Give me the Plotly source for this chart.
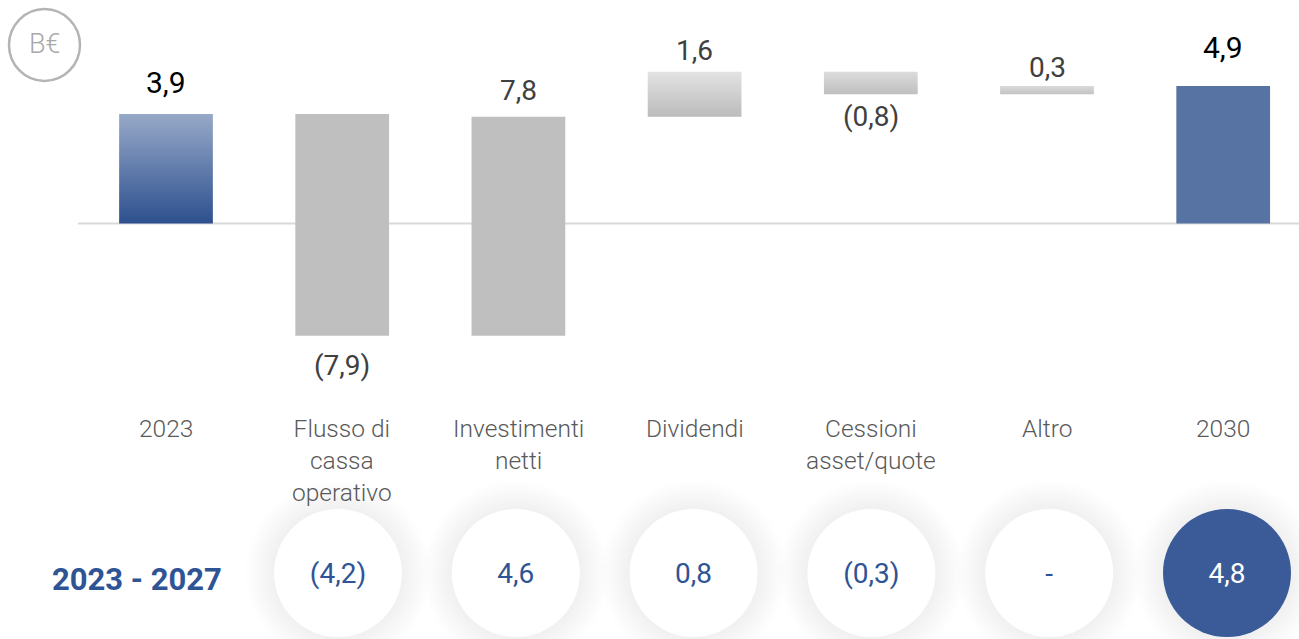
import plotly.graph_objects as go

# ---------------- data ----------------
categories = ["2023", "Flusso di<br>cassa<br>operativo", "Investimenti<br>netti",
              "Dividendi", "Cessioni<br>asset/quote", "Altro", "2030"]
values = [3.9, -7.9, 7.8, 1.6, -0.8, 0.3, 4.9]
value_labels = ["3,9", "(7,9)", "7,8", "1,6", "(0,8)", "0,3", "4,9"]
measures = ["total", "relative", "relative", "relative", "relative", "relative", "total"]
period_label = "2023 - 2027"
period_values = ["(4,2)", "4,6", "0,8", "(0,3)", "-", "4,8"]
unit_label = "B€"

# ---------------- styles ----------------
W, H = 1299, 639
BAR_W = 0.532
FONT = "Roboto"
BLUE = "#2f5496"
fills = [
    ("grad", "#2d508f", "#97a9c8"),
    ("solid", "#bfbfbf", None),
    ("solid", "#bfbfbf", None),
    ("grad", "#bcbcbc", "#e2e2e2"),
    ("grad", "#bfbfbf", "#dcdcdc"),
    ("grad", "#c2c2c2", "#dadada"),
    ("solid", "#5673a3", None),
]
label_colors = ["#000000", "#404040", "#404040", "#404040", "#404040", "#404040", "#000000"]
label_sizes = [30, 28, 28, 28, 28, 28, 30]
label_shift = [31, -30, 26, 21, -22, 18, 38]

# waterfall geometry from the values
bases, ends = [], []
run = 0.0
for v, m in zip(values, measures):
    if m == "total":
        b, e = 0.0, v
        run = v
    else:
        b, e = run, run + v
        run = e
    bases.append(b)
    ends.append(e)

fig = go.Figure()

for i, (b, e) in enumerate(zip(bases, ends)):
    lo, hi = min(b, e), max(b, e)
    kind, c1, c2 = fills[i]
    if kind == "solid":
        fig.add_trace(go.Bar(x=[i], y=[hi - lo], base=[lo], width=BAR_W,
                             marker=dict(color=c1, line=dict(width=0)),
                             hoverinfo="skip", showlegend=False))
    else:
        xs = [i - BAR_W / 2, i + BAR_W / 2, i + BAR_W / 2, i - BAR_W / 2, i - BAR_W / 2]
        ys = [lo, lo, hi, hi, lo]
        fig.add_trace(go.Scatter(x=xs, y=ys, mode="lines", fill="toself",
                                 line=dict(width=0, color="rgba(0,0,0,0)"),
                                 fillgradient=dict(type="vertical",
                                                   colorscale=[[0, c1], [1, c2]],
                                                   start=lo, stop=hi),
                                 hoverinfo="skip", showlegend=False))

# value labels
for i, (b, e) in enumerate(zip(bases, ends)):
    yv = max(b, e) if values[i] >= 0 else min(b, e)
    fig.add_annotation(x=i, y=yv, text=value_labels[i], showarrow=False,
                       xanchor="center", yanchor="middle", yshift=label_shift[i],
                       font=dict(family=FONT, size=label_sizes[i], color=label_colors[i]))

# category labels
for i, c in enumerate(categories):
    fig.add_annotation(x=i, y=1 - 412 / H, yref="paper", text=c, showarrow=False,
                       xanchor="center", yanchor="top", align="center",
                       font=dict(family=FONT, size=24.5, color="#595959", weight=300))

# baseline
fig.add_shape(type="line", xref="x", yref="y", x0=-0.5, x1=len(categories) + 0.5,
              y0=0, y1=0, line=dict(color="#d9d9d9", width=2), layer="below")

# period circles on a secondary axis pair
cx = list(range(len(period_values)))
cy_val = 1 - 573 / H
for k in range(15):
    s = 130 + 4 * k
    fig.add_trace(go.Scatter(x=cx, y=[cy_val] * len(cx), xaxis="x2", yaxis="y2",
                             mode="markers",
                             marker=dict(size=s, color="rgba(0,0,0,0.005)", line=dict(width=0)),
                             hoverinfo="skip", showlegend=False))
circle_colors = ["#ffffff"] * (len(period_values) - 1) + ["#3a5a98"]
text_colors = [BLUE] * (len(period_values) - 1) + ["#ffffff"]
fig.add_trace(go.Scatter(x=cx, y=[cy_val] * len(cx), xaxis="x2", yaxis="y2",
                         mode="markers",
                         marker=dict(size=128, color=circle_colors, line=dict(width=0)),
                         hoverinfo="skip", showlegend=False))
fig.add_trace(go.Scatter(x=cx, y=[cy_val - 3 / H] * len(cx), xaxis="x2", yaxis="y2",
                         mode="text", text=period_values,
                         textposition="middle center",
                         textfont=dict(family=FONT, size=28, color=text_colors),
                         hoverinfo="skip", showlegend=False))

fig.add_annotation(x=137 / W, y=1 - 579 / H, xref="paper", yref="paper",
                   xanchor="center", yanchor="middle",
                   text="<b>" + period_label + "</b>", showarrow=False,
                   font=dict(family=FONT, size=31, color=BLUE))

# unit badge
fig.add_shape(type="circle", xref="paper", yref="paper",
              x0=9 / W, x1=80 / W, y0=1 - 81 / H, y1=1 - 9 / H,
              line=dict(color="#b4b4b4", width=2.5), fillcolor="rgba(0,0,0,0)")
fig.add_annotation(x=44.5 / W, y=1 - 44 / H, xref="paper", yref="paper",
                   xanchor="center", yanchor="middle",
                   text=unit_label, showarrow=False,
                   font=dict(family=FONT, size=27, color="#a8a8a8", weight=300))

px_per_x = 176.2
x0_px = 166
px_per_y = 28.08
y0_px = 223.5
c_px = 177.8
c0_px = 338

fig.update_layout(
    width=W, height=H,
    margin=dict(l=0, r=0, t=0, b=0),
    paper_bgcolor="white", plot_bgcolor="white",
    barmode="overlay",
    showlegend=False,
    xaxis=dict(range=[-x0_px / px_per_x, (W - x0_px) / px_per_x], visible=False, fixedrange=True),
    yaxis=dict(range=[-(H - y0_px) / px_per_y, y0_px / px_per_y], visible=False, fixedrange=True),
    xaxis2=dict(range=[-c0_px / c_px, (W - c0_px) / c_px], overlaying="x", visible=False),
    yaxis2=dict(range=[0, 1], overlaying="y", visible=False),
)

fig.write_html("out.html", config={"displayModeBar": False},
               post_script="document.body.style.margin='0';document.body.style.overflow='hidden';")
